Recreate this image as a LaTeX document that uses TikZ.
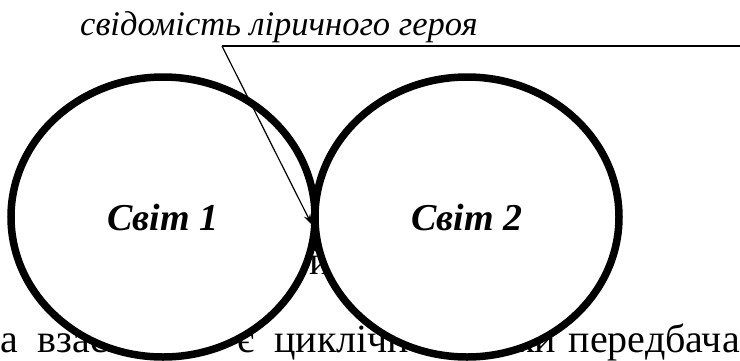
\documentclass[tikz,border=0pt]{standalone}
\usepackage{fontspec}
\setmainfont{Liberation Serif}
\usetikzlibrary{shapes.geometric,arrows.meta}

\begin{document}
\begin{tikzpicture}
 [x=1pt, y=-1pt,
  world node/.style={ellipse, draw, fill=white, line width=7.5pt, inner sep=0pt,
    minimum width=304pt, minimum height=280pt,
    font=\fontsize{38}{40}\selectfont\bfseries\itshape},
  body text/.style={anchor=base west, inner sep=0pt, font=\fontsize{40}{42}\selectfont},
  label text/.style={anchor=base west, inner sep=0pt, font=\fontsize{34.5}{37}\selectfont\itshape}]

\useasboundingbox (0,0) rectangle (740,360);

% text of the page behind the circles
\node[body text] (t1) at (0,352) {а\ \ взаєм};
\node[body text] (t2) at (237,352) {є\ \ циклічно};
\node[body text] (t3) at (497,352) {ьки};
\node[body text, anchor=base east] (t5) at (740,352) {передбача};
\node[body text] (t4) at (309,274) {й};

\node[world node] (w1) at (163,217) {Світ 1};
\node[world node] (w2) at (467,217) {Світ 2};

\node[label text] (lh) at (80,35) {свідомість ліричного героя};
\coordinate (lineL) at (222,46);
\coordinate (lineR) at (740,46);
\coordinate (meet) at (312,225);

\draw[line width=1.2pt] (lineL) -- (lineR);
\draw[line width=1.2pt, -{Stealth[length=11pt,width=7pt]}] (lineL) -- (meet);

\end{tikzpicture}
\end{document}
